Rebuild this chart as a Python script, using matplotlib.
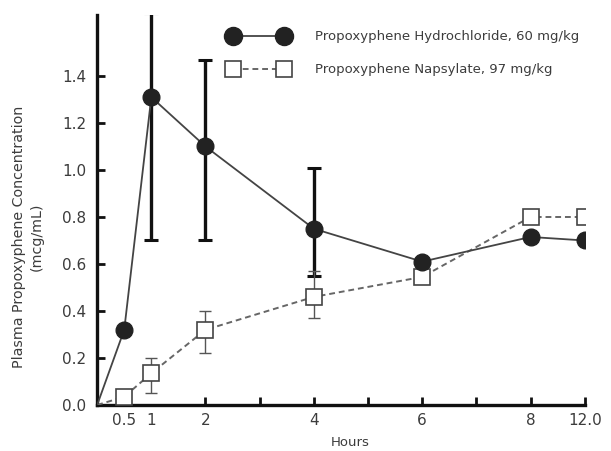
import numpy as np
import matplotlib
matplotlib.use("Agg")
import matplotlib.pyplot as plt
from matplotlib.lines import Line2D

# data
hours = [0, 0.5, 1, 2, 4, 6, 8, 12]
hcl = [0.0, 0.32, 1.31, 1.10, 0.75, 0.61, 0.715, 0.70]
nap = [0.0, 0.035, 0.135, 0.32, 0.46, 0.545, 0.80, 0.80]

# error bars (only drawn where visible)
hcl_err_hours = [1, 2, 4]
hcl_err_mid = [1.31, 1.10, 0.75]
hcl_err_lo = [0.70, 0.70, 0.55]
hcl_err_hi = [1.67, 1.47, 1.01]

nap_err_hours = [1, 2, 4]
nap_err_mid = [0.135, 0.32, 0.46]
nap_err_lo = [0.05, 0.22, 0.37]
nap_err_hi = [0.20, 0.40, 0.57]

xticks = [0.5, 1, 2, 3, 4, 5, 6, 7, 8, 12]
xticklabels = ["0.5", "1", "2", "", "4", "", "6", "", "8", "12.0"]
yticks = [0.0, 0.2, 0.4, 0.6, 0.8, 1.0, 1.2, 1.4]

plt.rcParams["font.family"] = ["DejaVu Sans"]
txt = "#3c3c3c"

fig = plt.figure(figsize=(6.11, 4.51), dpi=100)
ax = fig.add_axes([0.159, 0.102, 0.798, 0.865])

# broken time axis: 8 -> 12 squeezed into one hour step
def fwd(x):
    return np.interp(x, [0, 8, 12], [0, 8, 9])

def inv(x):
    return np.interp(x, [0, 8, 9], [0, 8, 12])

ax.set_xscale("function", functions=(fwd, inv))

# error bars
ax.errorbar(hcl_err_hours, hcl_err_mid,
            yerr=[np.subtract(hcl_err_mid, hcl_err_lo), np.subtract(hcl_err_hi, hcl_err_mid)],
            fmt="none", ecolor="#111111", elinewidth=2.4, capsize=5, capthick=2.2, zorder=2)
ax.errorbar(nap_err_hours, nap_err_mid,
            yerr=[np.subtract(nap_err_mid, nap_err_lo), np.subtract(nap_err_hi, nap_err_mid)],
            fmt="none", ecolor="#555555", elinewidth=1.0, capsize=4, capthick=1.0, zorder=2)

ax.plot(hours, nap, linestyle=(0, (3, 2)), color="#666666", linewidth=1.4, zorder=3)
ax.plot(hours[1:], nap[1:], linestyle="none", marker="s", markersize=11,
        markerfacecolor="white", markeredgecolor="#444444", markeredgewidth=1.2, zorder=4)
ax.plot(hours, hcl, linestyle="-", color="#444444", linewidth=1.3, zorder=5)
ax.plot(hours[1:], hcl[1:], linestyle="none", marker="o", markersize=12,
        color="#222222", zorder=6)

# legend with a marker at both ends of a line
h1 = Line2D([], [], color="#444444", linewidth=1.3, marker="o", markersize=13,
            markerfacecolor="#222222", markeredgecolor="#222222")
h2 = Line2D([], [], color="#666666", linewidth=1.4, linestyle=(0, (3, 2)), marker="s",
            markersize=12, markerfacecolor="white", markeredgecolor="#444444",
            markeredgewidth=1.2)
leg = ax.legend([h1, h2], ["Propoxyphene Hydrochloride, 60 mg/kg",
                           "Propoxyphene Napsylate, 97 mg/kg"],
                numpoints=2, frameon=False, handlelength=4.5, handletextpad=2.0,
                labelspacing=1.5, fontsize=9.5, loc="upper left", borderpad=0,
                borderaxespad=0, bbox_to_anchor=(0.27, 0.96), labelcolor=txt)

ax.set_xlim(0, 12)
ax.set_ylim(0, 1.66)
ax.set_xticks(xticks)
ax.set_xticklabels(xticklabels)
ax.set_yticks(yticks)
ax.set_yticklabels(["%.1f" % v for v in yticks])
for i in (0, 1):
    ax.xaxis.get_major_ticks()[i].tick1line.set_visible(False)
ax.xaxis.set_minor_locator(matplotlib.ticker.NullLocator())

ax.tick_params(axis="both", direction="in", length=6, width=2.0, colors="#111111",
               labelcolor=txt, labelsize=11)
ax.tick_params(axis="y", pad=8)
ax.tick_params(axis="x", pad=6)

for s in ("top", "right"):
    ax.spines[s].set_visible(False)
for s in ("left", "bottom"):
    ax.spines[s].set_linewidth(2.4)
    ax.spines[s].set_color("#111111")

ax.set_xlabel("Hours", fontsize=9.5, color=txt)
ax.xaxis.set_label_coords(0.518, -0.08)
ax.set_ylabel("Plasma Propoxyphene Concentration\n(mcg/mL)", fontsize=10.3, color=txt,
              linespacing=1.3)
ax.yaxis.set_label_coords(-0.11, 0.43)

fig.savefig("out.png", dpi=100)
